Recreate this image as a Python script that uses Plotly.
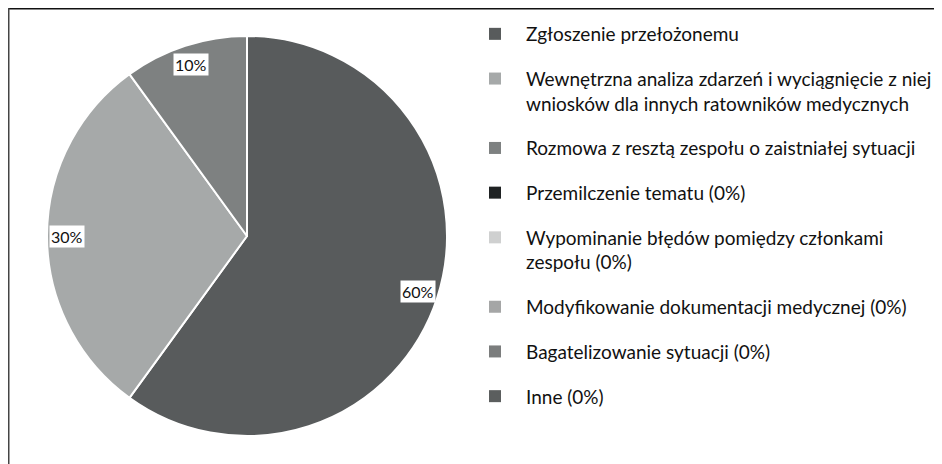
import math
import plotly.graph_objects as go

categories = [
    "Zgłoszenie przełożonemu",
    "Wewnętrzna analiza zdarzeń i wyciągnięcie z niej<br>wniosków dla innych ratowników medycznych",
    "Rozmowa z resztą zespołu o zaistniałej sytuacji",
    "Przemilczenie tematu (0%)",
    "Wypominanie błędów pomiędzy członkami<br>zespołu (0%)",
    "Modyfikowanie dokumentacji medycznej (0%)",
    "Bagatelizowanie sytuacji (0%)",
    "Inne (0%)",
]
values = [60, 30, 10, 0, 0, 0, 0, 0]
colors = ["#585b5c", "#a6a9a9", "#7e8181", "#1f2223", "#cfd0d0", "#a5a6a6", "#7b7d7d", "#5b5e5e"]

W, H = 942, 464
FONT = "Lato"

# pie geometry (layout)
cx_px, cy_px, R = 239, 228, 200
dom_x = [(cx_px - R) / W, (cx_px + R) / W]
dom_y = [(H - cy_px - R) / H, (H - cy_px + R) / H]

pie_labels = [c for c, v in zip(categories, values) if v > 0]
pie_values = [v for v in values if v > 0]
pie_colors = [col for col, v in zip(colors, values) if v > 0]

fig = go.Figure()
fig.add_trace(go.Pie(
    labels=pie_labels, values=pie_values, sort=False, direction="clockwise",
    rotation=0, marker=dict(colors=pie_colors, line=dict(color="white", width=2)),
    textinfo="none", hoverinfo="label+percent", showlegend=False,
    domain=dict(x=dom_x, y=dom_y),
))

# percentage labels on white boxes, placed from the data angles
total = sum(pie_values)
cum = 0
for v in pie_values:
    mid = (cum + v / 2) / total * 2 * math.pi
    cum += v
    px = cx_px + 0.9 * R * math.sin(mid)
    py = cy_px - 0.9 * R * math.cos(mid)
    fig.add_annotation(
        x=px / W, y=1 - py / H, xref="paper", yref="paper",
        xanchor="center", yanchor="middle",
        text=f"{round(v / total * 100)}%", showarrow=False,
        bgcolor="white", borderpad=1,
        font=dict(family=FONT, size=16, color="#111111"),
    )

# legend entries (all categories, including 0%)
for i, (c, col) in enumerate(zip(categories, colors)):
    fig.add_trace(go.Scatter(
        x=[None], y=[None], mode="markers", name=c,
        marker=dict(symbol="square", size=7, color=col),
        legendgroup=f"g{i}", showlegend=True,
    ))

fig.update_layout(
    width=W, height=H,
    margin=dict(l=0, r=0, t=0, b=0),
    paper_bgcolor="white", plot_bgcolor="white",
    xaxis=dict(visible=False), yaxis=dict(visible=False),
    showlegend=True,
    legend=dict(
        x=456 / W, y=1 - 7 / H, xanchor="left", yanchor="top",
        font=dict(family=FONT, size=19, color="#111111"),
        tracegroupgap=17, valign="top", itemsizing="constant", itemwidth=52,
        bgcolor="rgba(0,0,0,0)",
    ),
    shapes=[
        dict(type="line", xref="paper", yref="paper", x0=0, x1=1, y0=1, y1=1,
             line=dict(color="#111111", width=3)),
        dict(type="line", xref="paper", yref="paper", x0=0, x1=0, y0=0, y1=1,
             line=dict(color="#444444", width=3)),
    ],
)

fig.write_html("out.html")
